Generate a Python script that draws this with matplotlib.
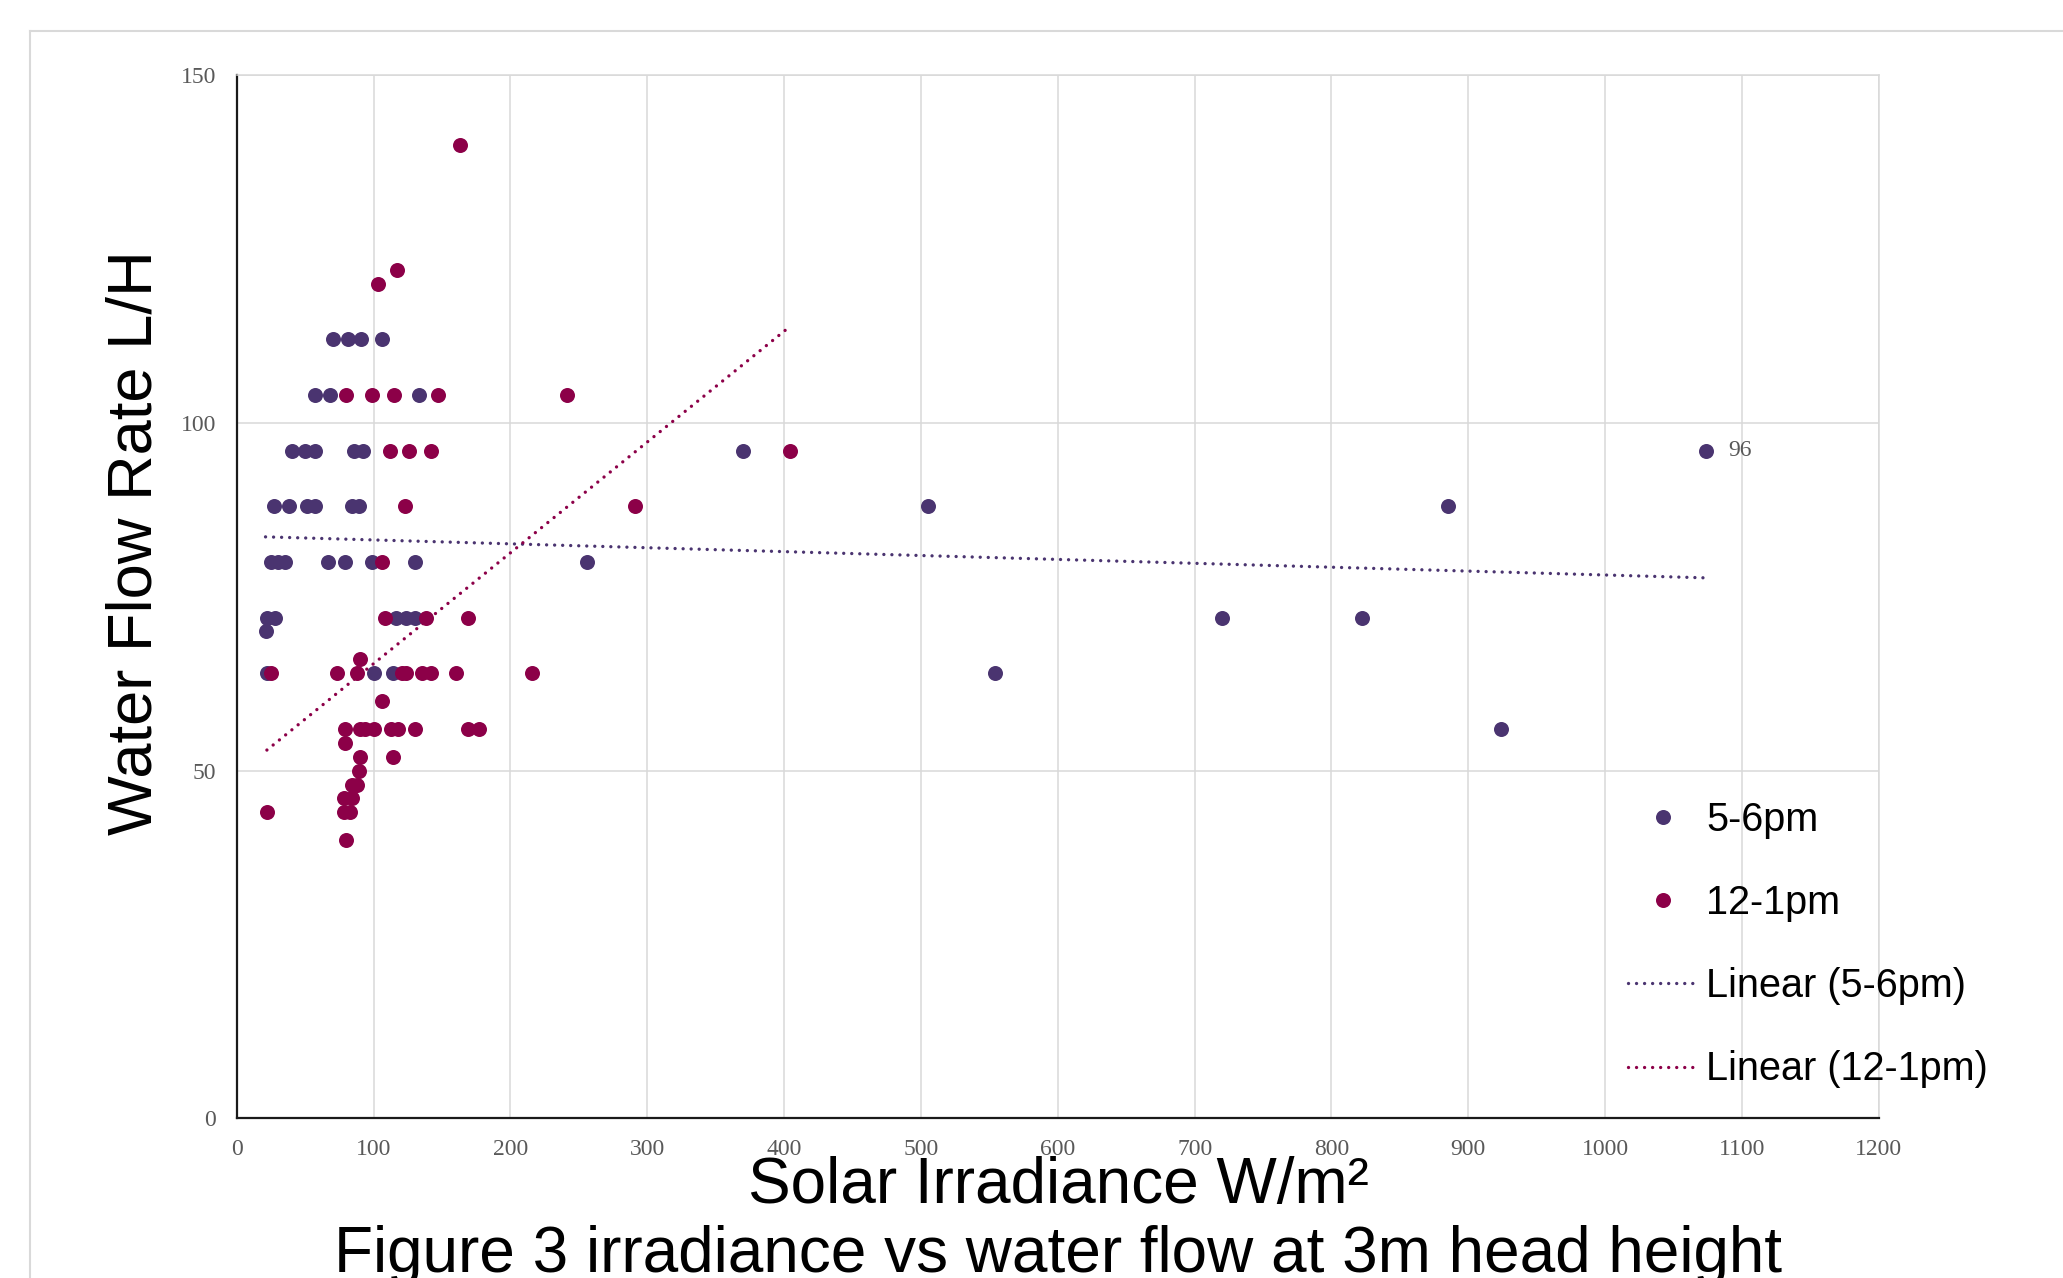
import numpy as np
import matplotlib
matplotlib.use("Agg")
import matplotlib.pyplot as plt
from matplotlib.lines import Line2D

# ---------------- data ----------------
evening_x = [70, 81, 91, 106,
             57, 68, 133,
             40, 50, 57, 86, 92, 370, 1074,
             27, 38, 51, 57, 84, 89, 505, 885,
             25, 30, 35, 67, 79, 99, 130, 256,
             22, 28, 116, 124, 130, 720, 822,
             21,
             22, 100, 114, 554,
             924]
evening_y = [112, 112, 112, 112,
             104, 104, 104,
             96, 96, 96, 96, 96, 96, 96,
             88, 88, 88, 88, 88, 88, 88, 88,
             80, 80, 80, 80, 80, 80, 80, 80,
             72, 72, 72, 72, 72, 72, 72,
             70,
             64, 64, 64, 64,
             56]

noon_x = [163,
          117,
          103,
          80, 99, 115, 147, 241,
          112, 126, 142, 404,
          123, 291,
          106,
          108, 138, 169,
          90,
          25, 73, 88, 121, 124, 135, 142, 160, 216,
          106,
          79, 90, 94, 100, 113, 118, 130, 169, 177,
          79,
          90, 114,
          89,
          84, 88,
          78, 84,
          22, 78, 83,
          80]
noon_y = [140,
          122,
          120,
          104, 104, 104, 104, 104,
          96, 96, 96, 96,
          88, 88,
          80,
          72, 72, 72,
          66,
          64, 64, 64, 64, 64, 64, 64, 64, 64,
          60,
          56, 56, 56, 56, 56, 56, 56, 56, 56,
          54,
          52, 52,
          50,
          48, 48,
          46, 46,
          44, 44, 44,
          40]

series_names = ["5-6pm", "12-1pm"]
trend_names = ["Linear (5-6pm)", "Linear (12-1pm)"]
# linear trendline coefficients (slope, intercept)
trend_slope = [-0.0056, 0.1593]
trend_intercept = [83.72, 49.45]
x_ticks = [0, 100, 200, 300, 400, 500, 600, 700, 800, 900, 1000, 1100, 1200]
y_ticks = [0, 50, 100, 150]
labelled_point = (1074, 96)

x_label = "Solar Irradiance W/m²"
y_label = "Water Flow Rate L/H"
title = "Figure 3 irradiance vs water flow at 3m head height"

# ---------------- styling ----------------
C_EVE = "#4A3470"
C_NOON = "#8C0048"
GRID = "#d9d9d9"
TICK_C = "#595959"
SANS = "Liberation Sans"
SERIF = "Liberation Serif"

W, H = 2063, 1278
fig = plt.figure(figsize=(W / 100, H / 100), dpi=100)
fig.patch.set_facecolor("white")

# outer chart frame (top and left edges visible)
fig.add_artist(Line2D([30 / W, 30 / W], [0, 1 - 31 / H], transform=fig.transFigure,
                      color=GRID, lw=1.5))
fig.add_artist(Line2D([30 / W, 1], [1 - 31 / H, 1 - 31 / H], transform=fig.transFigure,
                      color=GRID, lw=1.5))

ax = fig.add_axes([236.8 / W, 1 - 1118.4 / H, 1642 / W, 1043.4 / H])
ax.set_xlim(0, 1200)
ax.set_ylim(0, 150)
ax.set_xticks(x_ticks)
ax.set_yticks(y_ticks)
ax.grid(True, color=GRID, lw=1.1, zorder=0)
ax.set_axisbelow(True)
for s in ["top", "right"]:
    ax.spines[s].set_color(GRID)
    ax.spines[s].set_linewidth(1.1)
for s in ["left", "bottom"]:
    ax.spines[s].set_color("#1a1a1a")
    ax.spines[s].set_linewidth(1.6)
ax.tick_params(length=0, pad=15, labelsize=17, labelcolor=TICK_C)
for lab in ax.get_xticklabels() + ax.get_yticklabels():
    lab.set_fontfamily(SERIF)

ms = 10.8
ax.plot(evening_x, evening_y, "o", color=C_EVE, ms=ms, mec="none", zorder=3,
        label=series_names[0])
ax.plot(noon_x, noon_y, "o", color=C_NOON, ms=ms, mec="none", zorder=3,
        label=series_names[1])

dot = (0, (0.01, 2.4))
for xs, k, b, c, name in [(evening_x, trend_slope[0], trend_intercept[0], C_EVE, trend_names[0]),
                          (noon_x, trend_slope[1], trend_intercept[1], C_NOON, trend_names[1])]:
    xs = np.asarray(xs, float)
    xx = np.array([xs.min(), xs.max()])
    ax.plot(xx, k * xx + b, color=c, lw=2.4, linestyle=dot, dash_capstyle="round",
            zorder=4, label=name)

ax.annotate(str(labelled_point[1]), xy=labelled_point, xytext=(15.5, 0),
            textcoords="offset points", ha="left", va="center",
            fontsize=17, color=TICK_C, family=SERIF)

leg = ax.legend(loc="upper left", bbox_to_anchor=(1628 / W, 1 - 801 / H),
                bbox_transform=fig.transFigure, frameon=False, borderpad=0,
                borderaxespad=0, handlelength=1.75, handletextpad=0.22,
                labelspacing=1.14, prop={"family": SANS, "size": 28.5})
for t in leg.get_texts():
    t.set_color("black")

fig.text(152 / W, 1 - 543 / H, y_label, rotation=90, rotation_mode="anchor",
         ha="center", va="baseline", fontsize=45.5, family=SANS, color="black")
fig.text(1058 / W, 1 - 1203 / H, x_label, ha="center", va="baseline",
         fontsize=46, family=SANS, color="black")
fig.text(1058 / W, 1 - 1272 / H, title, ha="center", va="baseline",
         fontsize=46, family=SANS, color="black")

fig.savefig("out.png", dpi=100, facecolor="white")
